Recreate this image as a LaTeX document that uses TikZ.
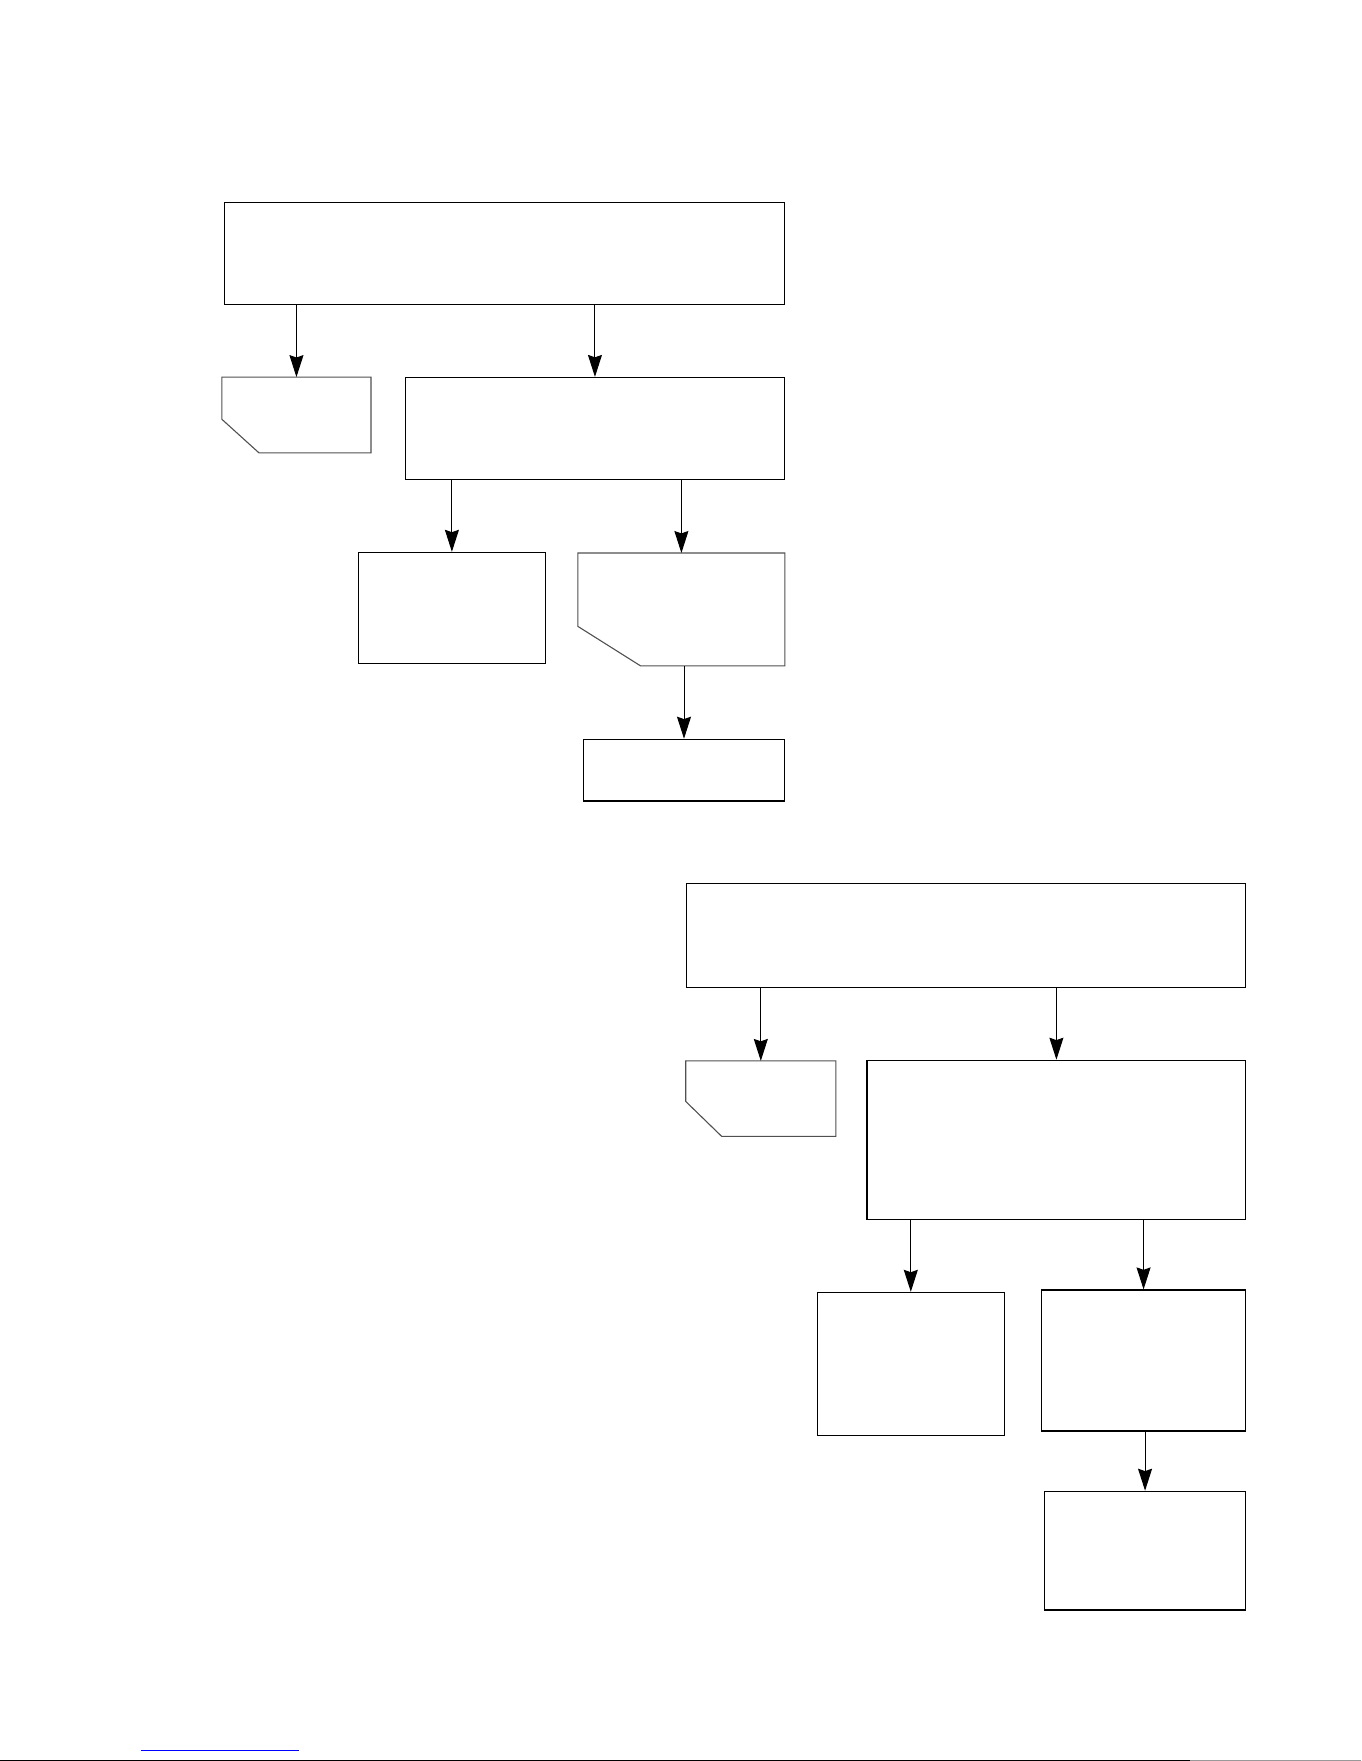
\documentclass[tikz,border=0pt]{standalone}
\usetikzlibrary{arrows.meta,fit,calc}
\definecolor{cutgray}{RGB}{80,80,80}
\definecolor{linkblue}{RGB}{0,0,255}
\tikzset{
  px/.style={x=0.5pt,y=-0.5pt},
  bx/.style={draw=black,line width=0.6pt,inner sep=0pt,rectangle},
  cutbox/.style={draw=none,inner sep=0pt,rectangle},
  cutline/.style={draw=cutgray,line width=0.55pt},
  arr/.style={draw=black,line width=0.5pt,-{Stealth[length=11pt,width=7pt,inset=1.2pt]}}
}
\begin{document}
\begin{tikzpicture}[px]
\useasboundingbox (0,0) rectangle (1361,1761);
% ---------- upper group ----------
\node[bx,fit={(224.6,202.5) (784.5,304.3)}] (A) {};
\node[cutbox,fit={(222.3,377.5) (370.6,452.4)}] (B) {};
\draw[cutline] ($(B.south west)+(0,-33.5)$) -- (B.north west) -- (B.north east)
  -- (B.south east) -- ($(B.south west)+(37,0)$) -- cycle;
\node[bx,fit={(405.4,377.5) (784.5,479.4)}] (C) {};
\node[bx,fit={(358.2,552.4) (545.6,663.5)}] (D) {};
\node[cutbox,fit={(578.3,553.4) (784.5,665.5)}] (E) {};
\draw[cutline] ($(E.south west)+(0,-39.5)$) -- (E.north west) -- (E.north east)
  -- (E.south east) -- ($(E.south west)+(62.7,0)$) -- cycle;
\node[bx,fit={(583.5,739.3) (784.5,801.0)}] (F) {};
\draw[arr] (A.south -| B.north) -- (B.north);
\draw[arr] (A.south -| C.north) -- (C.north);
\draw[arr] (C.south -| D.north) -- (D.north);
\draw[arr] (C.south -| E.north) -- (E.north);
\draw[arr] (E.south -| F.north) -- (F.north);
% ---------- lower group ----------
\node[bx,fit={(686.1,883.5) (1245.8,987.6)}] (G) {};
\node[cutbox,fit={(686.1,1061.3) (835.5,1136.0)}] (H) {};
\draw[cutline] ($(H.south west)+(0,-35)$) -- (H.north west) -- (H.north east)
  -- (H.south east) -- ($(H.south west)+(36,0)$) -- cycle;
\node[bx,fit={(867.0,1060.3) (1245.8,1219.4)}] (I) {};
\node[bx,fit={(817.4,1292.4) (1004.2,1435.2)}] (J) {};
\node[bx,fit={(1041.3,1290.0) (1245.8,1431.0)}] (K) {};
\node[bx,fit={(1044.3,1491.3) (1245.8,1610.0)}] (L) {};
\draw[arr] (G.south -| H.north) -- (H.north);
\draw[arr] (G.south -| I.north) -- (I.north);
\draw[arr] (I.south -| J.north) -- (J.north);
\draw[arr] (I.south -| K.north) -- (K.north);
\draw[arr] (K.south -| L.north) -- (L.north);
% ---------- page foot ----------
\draw[linkblue,line width=0.5pt] (141,1750.3) -- (299,1750.3);
\draw[black,line width=0.6pt] (0,1760.3) -- (1190,1760.3);
\draw[black!40,line width=0.6pt] (1190,1760.3) -- (1361,1760.3);
\end{tikzpicture}
\end{document}
